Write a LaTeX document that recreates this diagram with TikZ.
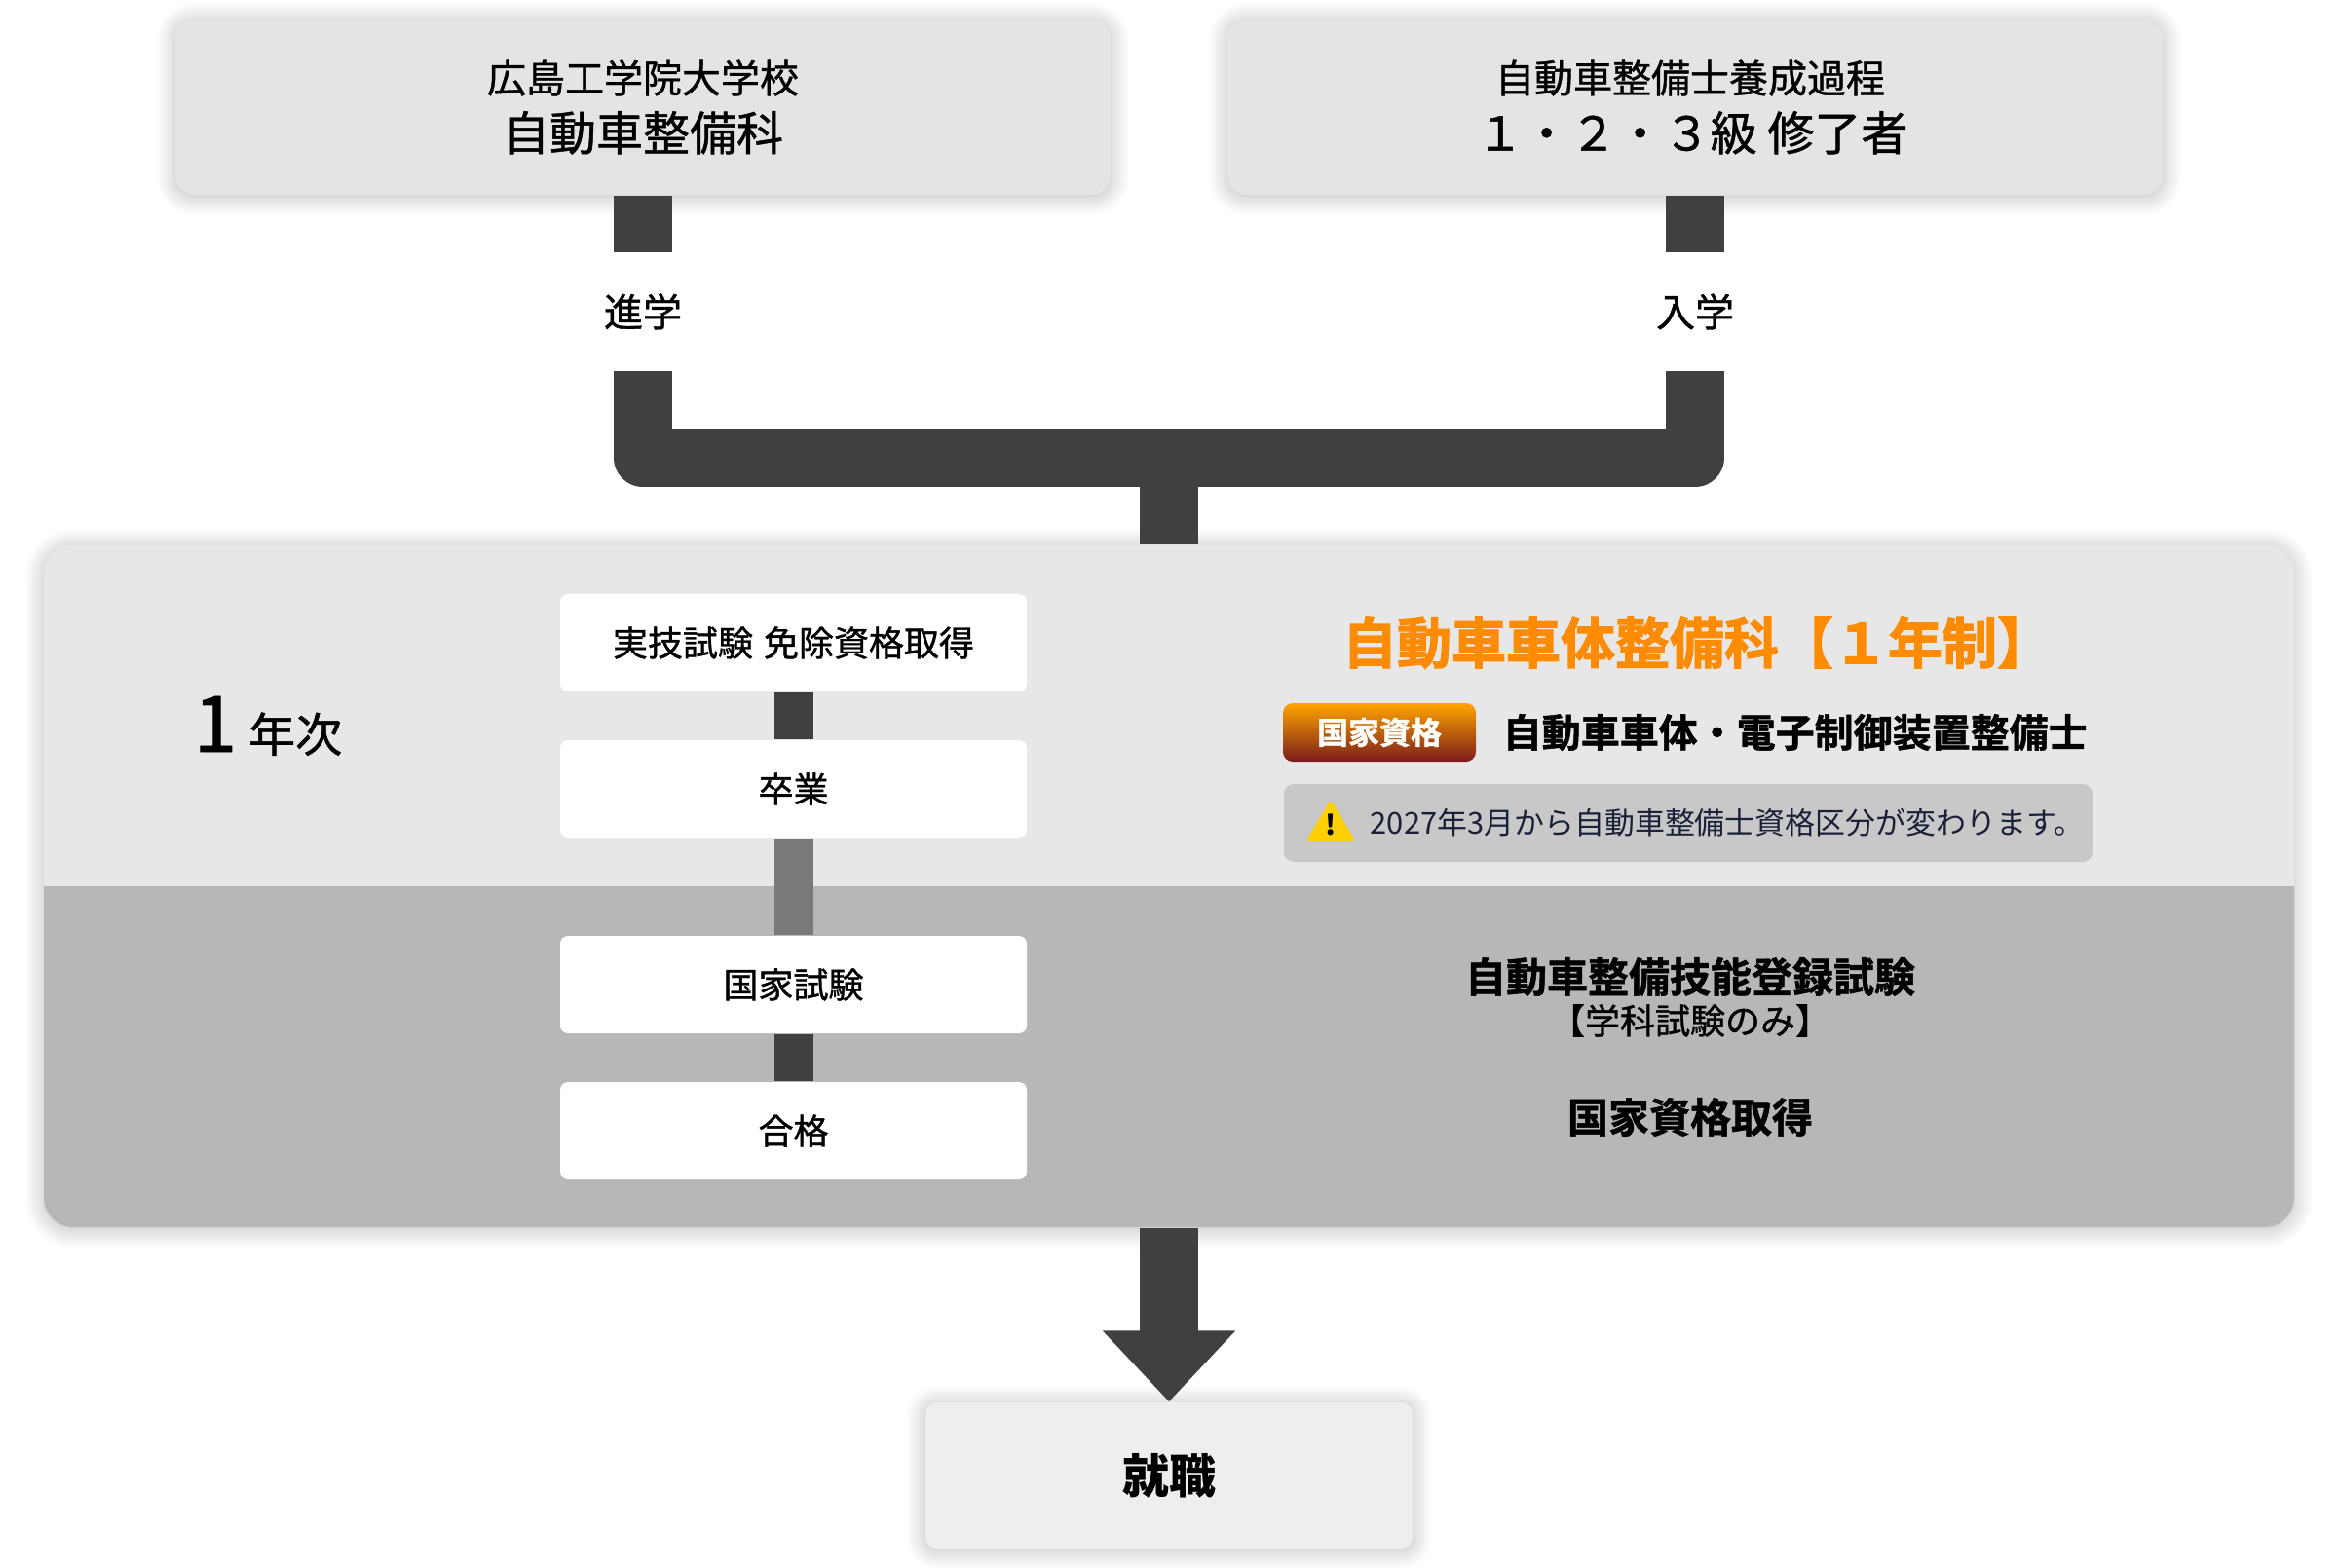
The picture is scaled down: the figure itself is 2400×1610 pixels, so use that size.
\documentclass[tikz,border=0pt]{standalone}
\usepackage{fontspec}
\usepackage{xcolor}
\usepackage{tikz}
\usetikzlibrary{positioning,arrows.meta,shadows.blur}
\setmainfont{Noto Sans CJK JP}
\newfontfamily\jpmid[FakeBold=1]{Noto Sans CJK JP}
\newfontfamily\jpheavy[FakeBold=1.2]{Noto Sans CJK JP Bold}
\newfontfamily\jpblack[FakeBold=2.2]{Noto Sans CJK JP Bold}
\definecolor{barfill}{HTML}{404040}
\definecolor{barfaint}{HTML}{797979}
\definecolor{bandlight}{HTML}{E7E7E7}
\definecolor{banddark}{HTML}{B7B7B7}
\definecolor{boxgray}{HTML}{E4E4E4}
\definecolor{jobgray}{HTML}{EEEEEE}
\definecolor{notegray}{HTML}{C8C8C8}
\definecolor{noteink}{HTML}{1A2038}
\definecolor{titleorange}{HTML}{FF8C00}
\definecolor{badgetop}{HTML}{FFA500}
\definecolor{badgebottom}{HTML}{7A1C1C}
\definecolor{warnyellow}{HTML}{FFD000}
\begin{document}
\begin{tikzpicture}[x=0.1mm, y=-0.1mm,
  softshade/.style={blur shadow={shadow xshift=0mm, shadow yshift=-0.2mm, shadow blur radius=2mm, shadow blur steps=12, shadow opacity=28}},
  topbox/.style={fill=boxgray, rounded corners=2mm, minimum width=96mm, minimum height=18mm, align=center, softshade, inner sep=0pt},
  stepbox/.style={fill=white, rounded corners=0.8mm, minimum width=47.9mm, minimum height=10mm, inner sep=0pt, font=\jpmid\fontsize{10.24}{12}\selectfont},
  gap/.style={minimum height=12mm, minimum width=6mm, inner sep=0pt, font=\jpmid\fontsize{11.38}{13}\selectfont},
  rightline/.style={inner sep=0pt, font=\jpheavy\fontsize{11.95}{14}\selectfont},
  trunk/.style={draw=barfill, line width=6mm, line join=round},
  small/.style={line width=4mm}]
\useasboundingbox (0,0) rectangle (2400,1610);
\node[topbox] (daigakko) at (660,110) {\jpmid\fontsize{11.38}{15.1}\selectfont 広島工学院大学校\\[1.2mm]\jpmid\fontsize{13.66}{15.1}\selectfont 自動車整備科};
\node[topbox] (katei) at (1740,110) {\jpmid\fontsize{11.38}{15.1}\selectfont 自動車整備士養成過程\hspace*{1mm}\\[1.2mm]\jpmid\fontsize{13.66}{15.1}\selectfont １・２・３級 修了者\hspace*{0.6mm}};
\node[gap] (shingaku) at (660,320) {進学};
\node[gap] (nyugaku) at (1740,320) {入学};
\coordinate (merge) at (1200,470);
\node[fill=bandlight, rounded corners=3mm, minimum width=231mm, minimum height=70mm, softshade, inner sep=0pt] (panel) at (1200,910) {};
\begin{scope}
\clip (45,910) rectangle (2355,1270);
\fill[banddark, rounded corners=3mm] (45,860) rectangle (2355,1260);
\end{scope}
\node[inner sep=0pt, anchor=base west] (nenji) at (198,772) {\jpmid\fontsize{22.76}{24}\selectfont 1\hspace{1.2mm}\fontsize{13.66}{15}\selectfont 年次};
\node[stepbox] (menjo) at (814.5,660) {実技試験\hspace{0.3mm} 免除資格取得};
\node[stepbox] (sotsu) at (814.5,810) {卒業};
\node[stepbox] (kokka) at (814.5,1011) {国家試験};
\node[stepbox] (gokaku) at (814.5,1161) {合格};
\node[inner sep=0pt, text=titleorange, font=\jpblack\fontsize{15.93}{18}\selectfont] (course) at (1742,660) {自動車車体整備科【１年制】};
\node[minimum width=19.8mm, minimum height=6mm, inner sep=0pt, rounded corners=1mm, top color=badgetop, bottom color=badgebottom, text=white, font=\jpheavy\fontsize{9.1}{11}\selectfont] (badge) at (1416,752) {国家資格};
\node[rightline, font=\jpheavy\fontsize{11.38}{13}\selectfont, anchor=west] (license) at (1542,752) {自動車車体・電子制御装置整備士};
\node[fill=notegray, rounded corners=1mm, minimum width=83mm, minimum height=8mm, inner sep=0pt] (note) at (1733,845) {};
\node[inner sep=0pt, anchor=west, text=noteink, font=\fontsize{8.8}{10}\selectfont] (notetext) at (1406,845) {2027年3月から自動車整備士資格区分が変わります。};
\fill[warnyellow, draw=warnyellow, line width=0.4mm, line join=round] (1366,825) -- (1388,862) -- (1344,862) -- cycle;
\node[inner sep=0pt, font=\bfseries\fontsize{8}{9}\selectfont] (warnmark) at (1366,847) {!};
\node[rightline] (exam) at (1735,1003) {自動車整備技能登録試験};
\node[inner sep=0pt, font=\jpmid\fontsize{10.24}{12}\selectfont] (examnote) at (1735,1048) {【学科試験のみ】};
\node[rightline] (qualify) at (1735,1147) {国家資格取得};
\node[fill=jobgray, rounded corners=1.2mm, minimum width=50mm, minimum height=15mm, softshade, inner sep=0pt, font=\bfseries\fontsize{13.66}{15}\selectfont] (shuushoku) at (1200,1515) {就職};
\draw[trunk] (daigakko) -- (shingaku);
\draw[trunk] (katei) -- (nyugaku);
\draw[trunk] (shingaku.south) |- (merge) -| (nyugaku.south);
\draw[trunk] (merge) -- (panel.north);
\foreach \a/\b/\c in {menjo/sotsu/barfill, sotsu/kokka/barfaint, kokka/gokaku/barfill} { \draw[trunk, small, draw=\c] (\a) -- (\b); }
\draw[trunk, -{Triangle[length=7.3mm, width=13.2mm]}] (panel.south) -- (shuushoku.north);
\end{tikzpicture}
\end{document}
